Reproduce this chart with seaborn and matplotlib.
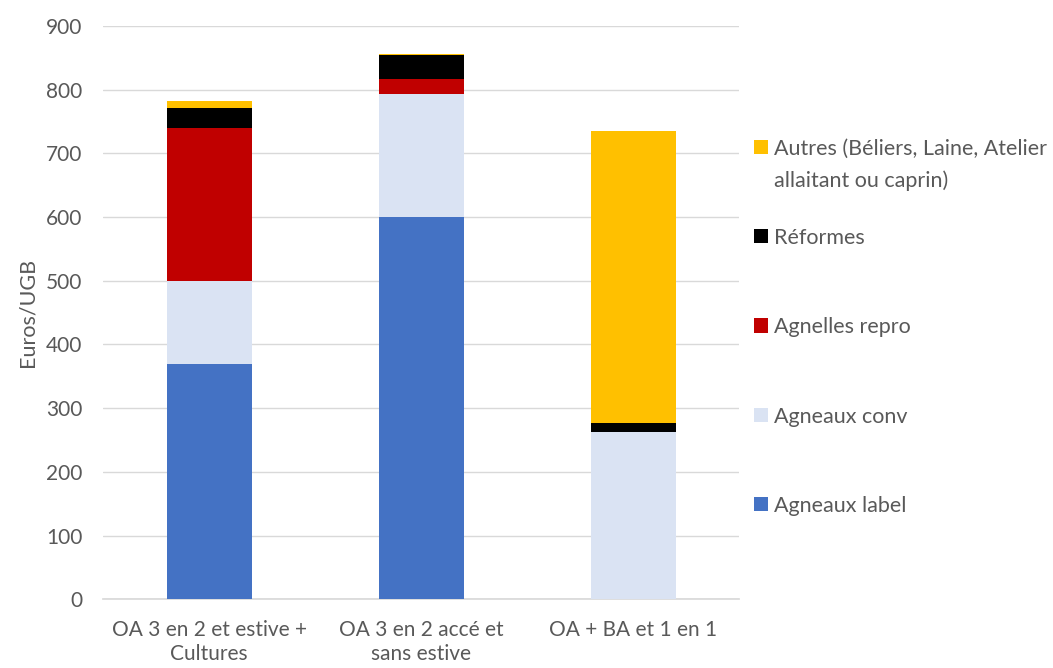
import matplotlib
matplotlib.use("Agg")
import matplotlib.pyplot as plt
import seaborn as sns
import pandas as pd
import numpy as np
from matplotlib.patches import Patch

categories = ["OA 3 en 2 et estive +\nCultures", "OA 3 en 2 accé et\nsans estive", "OA + BA et 1 en 1"]
agneaux_label = [370, 600, 0]
agneaux_conv = [130, 193, 262]
agnelles_repro = [240, 24, 0]
reformes = [31, 37, 14]
autres = [11, 2, 459]

series_names = ["Agneaux label", "Agneaux conv", "Agnelles repro", "Réformes",
                "Autres (Béliers, Laine, Atelier"]
autres_suite = "allaitant ou caprin)"
series_values = [agneaux_label, agneaux_conv, agnelles_repro, reformes, autres]
colors = ["#4472C4", "#DAE3F3", "#C00000", "#000000", "#FFC000"]
text_color = "#595959"

sns.set_theme(style="white")
plt.rcParams["font.family"] = ["Lato", "DejaVu Sans"]

fig = plt.figure(figsize=(10.53, 6.68), dpi=100)
ax = fig.add_axes([0.098, 0.103, 0.604, 0.858])

# stacked bars: draw cumulative totals from the top layer down
cum = np.cumsum(np.array(series_values), axis=0)
for i in range(len(series_names) - 1, -1, -1):
    df = pd.DataFrame({"cat": categories, "val": cum[i]})
    sns.barplot(data=df, x="cat", y="val", color=colors[i], width=0.4,
                saturation=1, ax=ax, zorder=3, linewidth=0)

ax.set_ylim(0, 900)
ax.set_yticks(range(0, 901, 100))
ax.yaxis.grid(True, color="#D9D9D9", linewidth=1, zorder=0)
ax.set_axisbelow(True)
for s in ["top", "right", "left"]:
    ax.spines[s].set_visible(False)
ax.spines["bottom"].set_color("#D9D9D9")
ax.set_xlabel("")
ax.set_ylabel("Euros/UGB", fontsize=15.5, color=text_color, labelpad=6)
ax.tick_params(axis="both", length=0, labelsize=15, colors=text_color)
ax.tick_params(axis="x", pad=15)
ax.tick_params(axis="y", pad=15)
for lbl in ax.get_xticklabels():
    lbl.set_linespacing(1.25)

handles = [Patch(facecolor=c, edgecolor="none") for c in colors]
leg = ax.legend(handles[::-1], series_names[::-1], loc="upper left",
                bbox_to_anchor=(1.0, 0.83), frameon=False, fontsize=15.5,
                labelspacing=3.22, handlelength=0.65, handleheight=0.65,
                handletextpad=0.28, borderaxespad=0.3)
for t in leg.get_texts():
    t.set_color(text_color)

# second line of the "Autres" entry, placed under its first line
# (drawn after the legend so the legend text position is known)
ax.annotate(autres_suite, xy=(0, 0), xycoords=leg.get_texts()[0],
            xytext=(0, -32), textcoords="offset pixels", ha="left", va="bottom",
            fontsize=15.5, color=text_color, annotation_clip=False, zorder=10)

fig.savefig("out.png", dpi=100)
